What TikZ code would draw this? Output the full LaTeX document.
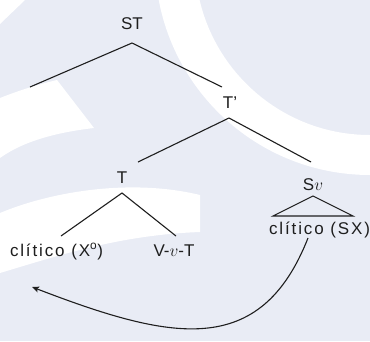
\documentclass[tikz,border=0pt]{standalone}
\usepackage{fontspec}
\setmainfont{Liberation Sans}
\usetikzlibrary{arrows.meta}
\definecolor{paper}{RGB}{233,236,245}
\definecolor{ink}{RGB}{30,30,30}
\tikzset{
  lbl/.style={inner sep=0pt, outer sep=0pt, font=\fontsize{17}{20}\selectfont, text=ink},
  wide/.style={lbl, font=\fontsize{17}{20}\selectfont\addfontfeatures{LetterSpace=11}},
  branch/.style={draw=ink, line width=1.1pt},
  move/.style={draw=ink, line width=1.1pt, -{Stealth[length=7pt,width=6pt,inset=1.5pt]}},
  mark/.style={white, line width=40pt}
}
\begin{document}
\begin{tikzpicture}[x=1pt, y=-1pt]
  % canvas and faint background band pattern
  \fill[paper] (0,0) rectangle (370,341);
  \useasboundingbox (0,0) rectangle (370,341);
  \begin{scope}
    \clip (0,0) rectangle (370,341);
    \draw[white, line width=40pt] (370,-40) circle (195);
    \fill[white] (0,0) -- (25,0) -- (0,24) -- cycle;
    \fill[white] (0,98) .. controls (20,90) and (40,84) .. (57,80) -- (94,128)
      .. controls (60,132) and (25,140) .. (0,158) -- cycle;
    \fill[white] (0,213) .. controls (50,192) and (130,178) .. (200,195)
      -- (200,232) .. controls (120,235) and (60,255) .. (0,273) -- cycle;
  \end{scope}

  % tree labels
  \node[lbl, anchor=base] (st)  at (132,29)  {ST};
  \node[lbl, anchor=base] (tb)  at (230,108) {T’};
  \node[lbl, anchor=base] (t)   at (122,183) {T};
  \node[lbl, anchor=base] (sv)  at (313,190) {S$v$};
  \node[wide, anchor=base west] (cx) at (10,256) {clítico (X\textsuperscript{o})};
  \node[lbl, anchor=base] (vvt) at (174,256) {V-$v$-T};
  \node[wide, anchor=base east] (cs) at (370,234) {clítico (SX)};

  % branch points
  \coordinate (stj) at (132,43);
  \coordinate (spec) at (30,87);
  \coordinate (tbtop) at (222,87);
  \coordinate (tbj) at (229,118);
  \coordinate (tleft) at (138,162);
  \coordinate (tright) at (311,162);
  \coordinate (tj) at (122,193);
  \coordinate (cxtop) at (61,236);
  \coordinate (vvttop) at (176,236);
  \coordinate (svj) at (313,196);
  \coordinate (trl) at (273,216);
  \coordinate (trr) at (353,216);
  \coordinate (mvstart) at (308,238);
  \coordinate (mvend) at (32,287);

  % branches
  \draw[branch] (spec) -- (stj) -- (tbtop);
  \draw[branch] (tleft) -- (tbj) -- (tright);
  \draw[branch] (cxtop) -- (tj) -- (vvttop);
  \draw[branch] (trl) -- (svj) -- (trr) -- cycle;

  % clitic movement
  \draw[move] (mvstart) .. controls (260,360) and (170,340) .. (mvend);
\end{tikzpicture}
\end{document}
